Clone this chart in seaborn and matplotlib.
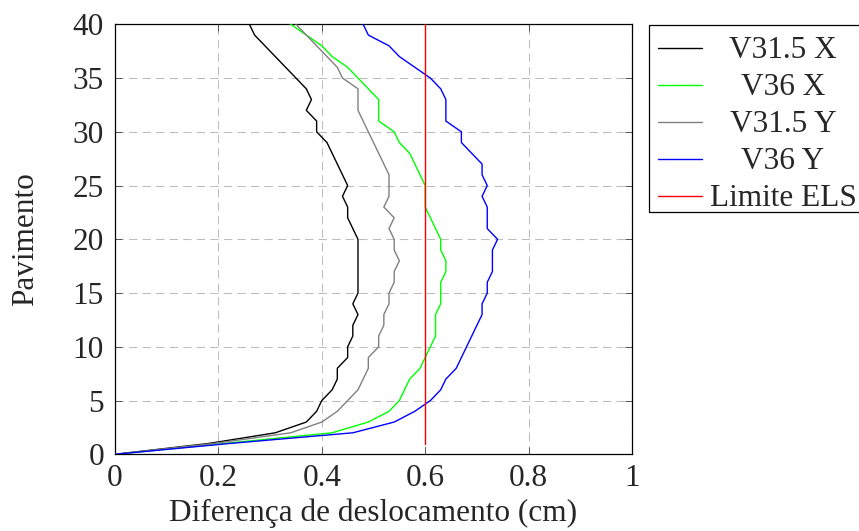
import numpy as np
import pandas as pd
import matplotlib
matplotlib.use("Agg")
import matplotlib.pyplot as plt
from matplotlib.lines import Line2D
from matplotlib.patches import Rectangle
import seaborn as sns

# ---------------- data ----------------
floors = list(range(0, 41))
v315_x = [0.00, 0.18, 0.31, 0.37, 0.39, 0.40, 0.42, 0.43, 0.43, 0.45,
          0.45, 0.46, 0.46, 0.47, 0.46, 0.47, 0.47, 0.47, 0.47, 0.47,
          0.47, 0.46, 0.45, 0.45, 0.44, 0.45, 0.44, 0.43, 0.42, 0.41,
          0.39, 0.39, 0.37, 0.38, 0.37, 0.35, 0.33, 0.31, 0.29, 0.27, 0.26]
v36_x = [0.00, 0.21, 0.42, 0.49, 0.53, 0.55, 0.56, 0.57, 0.59, 0.60,
         0.61, 0.62, 0.62, 0.62, 0.63, 0.63, 0.63, 0.64, 0.64, 0.63,
         0.63, 0.62, 0.61, 0.60, 0.60, 0.60, 0.59, 0.58, 0.57, 0.55,
         0.54, 0.51, 0.51, 0.51, 0.49, 0.47, 0.45, 0.42, 0.40, 0.37, 0.34]
v315_y = [0.00, 0.19, 0.34, 0.40, 0.43, 0.45, 0.47, 0.48, 0.49, 0.49,
          0.51, 0.51, 0.52, 0.52, 0.53, 0.53, 0.54, 0.54, 0.55, 0.54,
          0.54, 0.53, 0.54, 0.52, 0.53, 0.53, 0.53, 0.52, 0.51, 0.50,
          0.49, 0.48, 0.47, 0.47, 0.47, 0.44, 0.43, 0.41, 0.39, 0.37, 0.35]
v36_y = [0.00, 0.22, 0.46, 0.54, 0.58, 0.61, 0.63, 0.64, 0.66, 0.67,
         0.68, 0.69, 0.70, 0.71, 0.71, 0.72, 0.72, 0.73, 0.73, 0.73,
         0.74, 0.72, 0.72, 0.72, 0.71, 0.72, 0.71, 0.71, 0.69, 0.67,
         0.67, 0.64, 0.64, 0.64, 0.63, 0.61, 0.58, 0.55, 0.53, 0.49, 0.48]
limite_x = [0.6, 0.6]
limite_floor = [1, 40]

series_names = ["V31.5 X", "V36 X", "V31.5 Y", "V36 Y", "Limite ELS"]
series_colors = ["#000000", "#00ff00", "#808080", "#0000ff", "#ff0000"]
x_ticks = [0, 0.2, 0.4, 0.6, 0.8, 1]
x_tick_labels = ["0", "0.2", "0.4", "0.6", "0.8", "1"]
y_ticks = [0, 5, 10, 15, 20, 25, 30, 35, 40]

frames = []
for name, vals in zip(series_names[:4], [v315_x, v36_x, v315_y, v36_y]):
    frames.append(pd.DataFrame({"desloc": vals, "pav": floors, "serie": name}))
frames.append(pd.DataFrame({"desloc": limite_x, "pav": limite_floor,
                            "serie": "Limite ELS"}))
df = pd.concat(frames, ignore_index=True)

# ---------------- style ----------------
sns.set_style("white")
plt.rcParams["font.family"] = ["Liberation Serif", "DejaVu Serif"]
FS = 22.5
plt.rcParams["font.size"] = FS

W, H = 859, 531
fig = plt.figure(figsize=(W / 100, H / 100), dpi=100)
ax_l, ax_r, ax_t, ax_b = 115, 632, 24.3, 454.3
ax = fig.add_axes([ax_l / W, 1 - ax_b / H, (ax_r - ax_l) / W, (ax_b - ax_t) / H])

palette = dict(zip(series_names, series_colors))
sns.lineplot(data=df, x="desloc", y="pav", hue="serie", palette=palette,
             hue_order=series_names, sort=False, estimator=None,
             units="serie", linewidth=1.0, legend=False, ax=ax, zorder=3)

ax.set_xlim(0, 1)
ax.set_ylim(0, 40)
ax.set_xticks(x_ticks)
ax.set_xticklabels(x_tick_labels)
ax.set_yticks(y_ticks)
ax.grid(True, color="#bdbdbd", linestyle=(0, (8, 5)), linewidth=0.75, zorder=0)
ax.set_axisbelow(True)
for sp in ax.spines.values():
    sp.set_visible(True)
    sp.set_color("black")
    sp.set_linewidth(0.9)
ax.tick_params(direction="in", length=5, width=0.7, color="#555555",
               top=True, right=True, bottom=True, left=True,
               labelsize=FS)
ax.tick_params(axis="x", pad=7)
ax.tick_params(axis="y", pad=8)
ax.set_xlabel("Diferença de deslocamento (cm)", fontsize=FS)
ax.set_ylabel("Pavimento", fontsize=FS)
ax.xaxis.set_label_coords(0.5, (ax_b - 498) / (ax_b - ax_t))
ax.yaxis.set_label_coords((40 - ax_l) / (ax_r - ax_l), 0.5)

# ---------------- legend (pgfplots style, centered labels) ----------------
box_l, box_t, box_b = 649, 25, 212
fig.add_artist(Rectangle((box_l / W, 1 - box_b / H), (W + 20 - box_l) / W,
                         (box_b - box_t) / H, transform=fig.transFigure,
                         facecolor="white", edgecolor="black", linewidth=0.9,
                         zorder=5))
row_y0, row_dy = 48.3, 37.0
for i, (name, col) in enumerate(zip(series_names, series_colors)):
    yl = row_y0 + i * row_dy
    yy = 1 - yl / H
    fig.add_artist(Line2D([658 / W, 702 / W], [yy, yy], color=col,
                          linewidth=1.0, transform=fig.transFigure, zorder=6))
    fig.text(783 / W, 1 - (yl + 9.5) / H, name, ha="center", va="baseline",
             fontsize=FS, zorder=7)

fig.savefig("out.png", dpi=100)
